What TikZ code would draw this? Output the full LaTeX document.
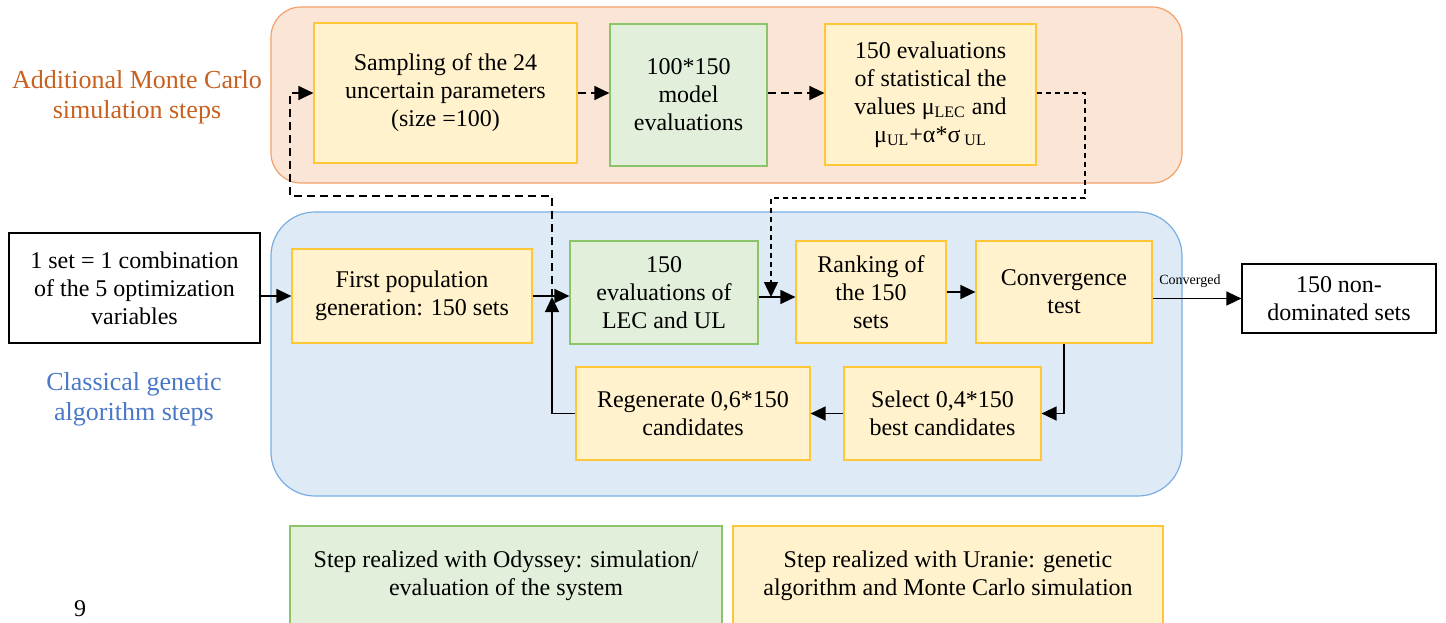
\documentclass[tikz,border=0pt]{standalone}
\usepackage{fontspec}
\setmainfont{Liberation Serif}
\usetikzlibrary{arrows.meta}
\definecolor{peachfill}{HTML}{FBE5D6}
\definecolor{peachline}{HTML}{F4A068}
\definecolor{bluefill}{HTML}{DEEBF7}
\definecolor{blueline}{HTML}{7AAEE2}
\definecolor{yelfill}{HTML}{FFF2CC}
\definecolor{yelline}{HTML}{FFC737}
\definecolor{grnfill}{HTML}{E2EFDA}
\definecolor{grnline}{HTML}{8CC46A}
\definecolor{orangetext}{HTML}{C8601E}
\definecolor{bluetext}{HTML}{4A78C8}
\begin{document}
\begin{tikzpicture}[x=0.5pt,y=-0.5pt,
  txt/.style={font=\fontsize{12}{14}\selectfont, align=center},
  ybox/.style={txt, draw=yelline, fill=yelfill, line width=0.6pt, inner sep=2pt},
  gbox/.style={txt, draw=grnline, fill=grnfill, line width=0.6pt, inner sep=2pt},
  wbox/.style={txt, draw=black, fill=white, line width=0.6pt, inner sep=2pt},
  arr/.style={-{Triangle[length=7.5pt,width=7pt]}, line width=0.7pt},
  dsh/.style={dash pattern=on 4pt off 2.5pt, line width=0.8pt},
  fdsh/.style={dash pattern=on 2.5pt off 2pt, line width=0.6pt},
  grouplabel/.style={font=\fontsize{13}{15}\selectfont, align=center}
]
\clip (0,0) rectangle (1446,622);
\fill[white] (0,0) rectangle (1446,622);
% group backgrounds
\draw[draw=peachline, fill=peachfill, line width=0.6pt, rounded corners=15pt] (271,7) rectangle (1182,183);
\draw[draw=blueline, fill=bluefill, line width=0.6pt, rounded corners=22pt] (271,212) rectangle (1182,496);
\node[grouplabel, text=orangetext] (lblmc) at (137,97) {Additional Monte Carlo\\simulation steps};
\node[grouplabel, text=bluetext] (lblga) at (134,399) {Classical genetic\\algorithm steps};
% Monte Carlo boxes
\node[ybox, minimum width=131.5pt, minimum height=70pt] (samp) at (445.5,93) {Sampling of the 24\\uncertain parameters\\(size =100)};
\node[gbox, minimum width=78.5pt, minimum height=71pt] (model) at (688.5,95) {100*150\\model\\evaluations};
\node[ybox, minimum width=105.5pt, minimum height=70.5pt] (stat) at (930.5,94.5) {150 evaluations\\of statistical the\\values μ\textsubscript{LEC} and\\μ\textsubscript{UL}+α*σ\,\textsubscript{UL}};
% GA boxes
\node[wbox, minimum width=125.5pt, minimum height=55pt] (input) at (134.5,288) {1 set = 1 combination\\of the 5 optimization\\variables};
\node[ybox, minimum width=120pt, minimum height=47pt] (first) at (412,296) {First population\\generation: 150 sets};
\node[gbox, minimum width=94pt, minimum height=51.5pt] (lec) at (664,292.5) {150\\evaluations of\\LEC and UL};
\node[ybox, minimum width=75pt, minimum height=51pt] (rank) at (871,292) {Ranking of\\the 150\\sets};
\node[ybox, minimum width=88pt, minimum height=51pt] (conv) at (1064,292) {Convergence\\test};
\node[ybox, minimum width=98.5pt, minimum height=46.5pt] (sel) at (942.5,413.5) {Select 0,4*150\\best candidates};
\node[ybox, minimum width=117pt, minimum height=46.5pt] (regen) at (693,413.5) {Regenerate 0,6*150\\candidates};
\node[wbox, minimum width=97pt, minimum height=34.5pt] (out) at (1339,298.5) {150 non-\\dominated sets};
% legend
\node[gbox, minimum width=216pt, minimum height=50pt] (leg1) at (506,576) {Step realized with Odyssey: simulation/\\evaluation of the system};
\node[ybox, minimum width=215pt, minimum height=50pt] (leg2) at (948,576) {Step realized with Uranie: genetic\\algorithm and Monte Carlo simulation};
\node[font=\fontsize{12}{14}\selectfont, anchor=base, inner sep=0pt] (pg) at (80,616) {9};
% junctions and bends
\coordinate (j1) at (552,297);
\coordinate (j2) at (771,297);
\coordinate (d1) at (1085,198);
\coordinate (d2) at (290,196);
% solid connectors
\draw[arr] (first.west -| input.east) -- (first.west);
\draw[arr] (first.east) -- (first.east -| lec.west);
\draw[arr] (lec.east |- j2) -- (rank.west |- j2);
\draw[arr] (rank.east) -- (conv.west);
\draw[arr] (conv.east |- out.west) -- node[above, font=\fontsize{7}{8}\selectfont, pos=0.42, yshift=2pt] (cv) {Converged} (out.west);
\draw[arr] (conv.south) |- (sel.east);
\draw[arr] (sel.west) -- (regen.east);
\draw[arr] (regen.west) -| (j1);
% dashed connectors
\draw[dsh, arr] (samp.east) -- (model.west |- samp.east);
\draw[dsh, arr] (model.east |- samp.east) -- (stat.west |- samp.east);
\draw[fdsh, arr] (stat.east |- samp.east) -| (d1) -| (j2);
\draw[dsh, arr] (j1) |- (d2) |- (samp.west);
\end{tikzpicture}
\end{document}
